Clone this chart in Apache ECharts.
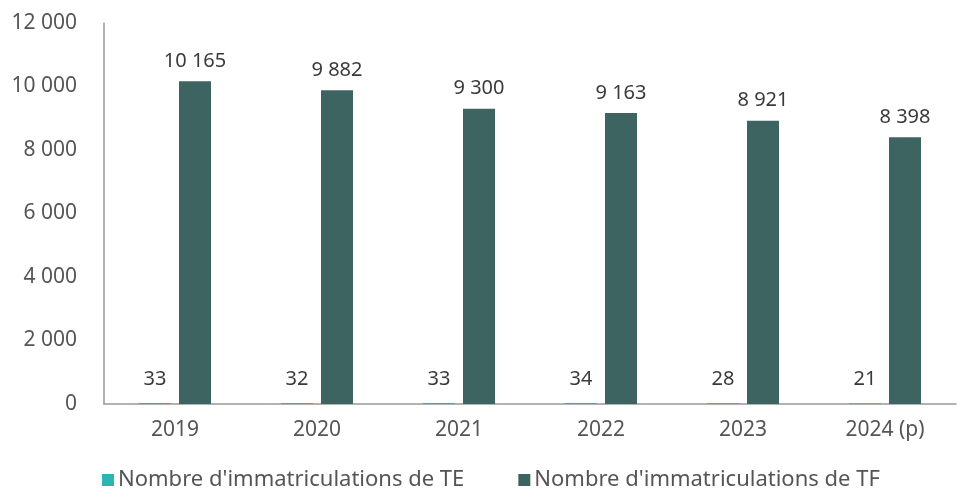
<!DOCTYPE html>
<html><head><meta charset="utf-8">
<script src="https://cdn.jsdelivr.net/npm/echarts@6/dist/echarts.min.js"></script>
<style>html,body{margin:0;padding:0;background:#fff}#c{width:958px;height:490px}</style>
</head><body><div id="c"></div>
<script>
const categories = ['2019','2020','2021','2022','2023','2024 (p)'];
const teValues = [33, 32, 33, 34, 28, 21];
const tfValues = [10165, 9882, 9300, 9163, 8921, 8398];
const yTicks = [0, 2000, 4000, 6000, 8000, 10000, 12000];
const seriesNames = ["Nombre d'immatriculations de TE", "Nombre d'immatriculations de TF"];

const fmt = v => String(v).replace(/\B(?=(\d{3})+(?!\d))/g, ' ');
const font = "'Noto Sans', sans-serif";
const chart = echarts.init(document.getElementById('c'));
chart.setOption({
  animation: false,
  textStyle: { fontFamily: font },
  grid: { left: 104, right: 2, top: 23, bottom: 86, containLabel: false },
  legend: {
    top: 464, left: 97, itemWidth: 12, itemHeight: 12, itemGap: 54,
    icon: 'rect',
    textStyle: { fontSize: 22, color: '#555', fontFamily: font, padding: [0,0,0,-1] },
    data: seriesNames
  },
  xAxis: {
    type: 'category', data: categories,
    axisLine: { lineStyle: { color: '#999', width: 1.5 } },
    axisTick: { show: false },
    axisLabel: { fontSize: 21, color: '#555', margin: 16 }
  },
  yAxis: {
    type: 'value', min: 0, max: 12000, interval: 2000,
    splitLine: { show: false },
    axisLine: { show: true, lineStyle: { color: '#999', width: 1.5 } },
    axisLabel: { fontSize: 21, color: '#555', margin: 27, formatter: v => yTicks.includes(v) ? fmt(v) : '' }
  },
  series: [
    { name: seriesNames[0], type: 'bar', data: teValues, barWidth: 32, barGap: '25%',
      itemStyle: { color: '#2DB5B5' },
      label: { show: true, position: 'top', distance: 14, fontSize: 20, color: '#3a3a3a', formatter: p => fmt(p.value) } },
    { name: seriesNames[1], type: 'bar', data: tfValues, barWidth: 32,
      itemStyle: { color: '#3E6462' },
      label: { show: true, position: 'top', distance: 10, fontSize: 20, color: '#3a3a3a', formatter: p => fmt(p.value) } }
  ]
});
</script></body></html>
